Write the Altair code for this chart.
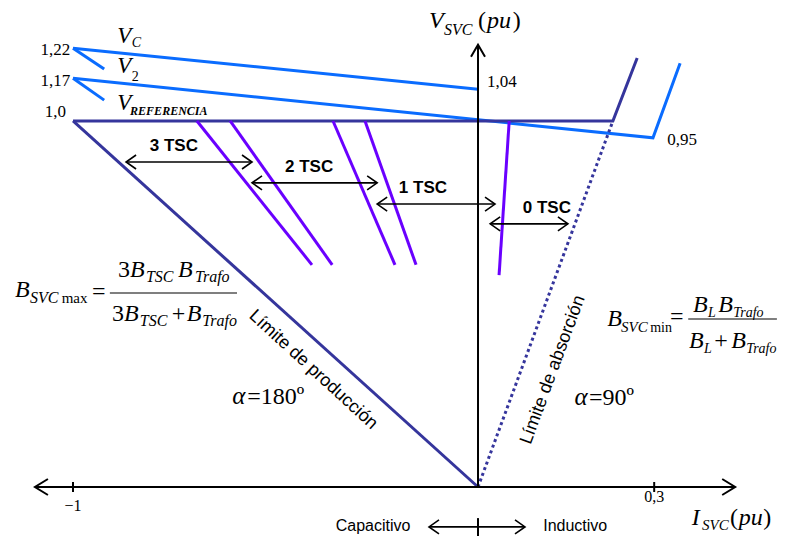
import altair as alt
import pandas as pd

# ---------------- schematic data (I_SVC, V_SVC in pu, as sketched) ----------------
VC_I = [-1.0, 0.0];             VC_V = [1.199, 1.087]
VC_MARK_I = [-1.0, -0.923];     VC_MARK_V = [1.199, 1.142]
V2_I = [-1.0, 0.432, 0.499];    V2_V = [1.117, 0.954, 1.158]
V2_MARK_I = [-1.0, -0.923];     V2_MARK_V = [1.117, 1.057]
VREF_I = [-1.0, 0.333, 0.393];  VREF_V = [1.0, 1.0, 1.172]
PROD_I = [-1.0, 0.0];           PROD_V = [1.0, 0.0]
ABS_I = [0.0, 0.333];           ABS_V = [0.0, 1.0]
TSC_TOP_I = [-0.694, -0.612, -0.358, -0.279, 0.077]
TSC_BOT_I = [-0.410, -0.360, -0.205, -0.153, 0.052]
TSC_BOT_V = [0.607, 0.607, 0.607, 0.607, 0.579]

AXIS_I = [-1.094, 0.635]
AXIS_V_TOP = 1.208
TICK_I = [-1.0, 0.435]
TICK_LABELS = ["\u22121", "0,3"]
TICK_LABEL_V = [-0.066, -0.041]

ARROW_V = [0.888, 0.831, 0.773, 0.719]
ARROW_I0 = [-0.869, -0.558, -0.249, 0.030]
ARROW_I1 = [-0.558, -0.249, 0.042, 0.222]
TSC_LABELS = ["3 TSC", "2 TSC", "1 TSC", "0 TSC"]
TSC_LABEL_I = [-0.751, -0.417, -0.136, 0.170]
TSC_LABEL_V = [0.918, 0.861, 0.803, 0.749]

SIDE_LABELS = ["Capacitivo", "Inductivo"]
SIDE_I = [-0.259, 0.240]
SIDE_V = -0.107
SIDE_ARROW_I = [-0.121, 0.116]

VLEVEL_LABELS = ["1,22", "1,17", "1,0"]
VLEVEL_I = [-1.007, -1.007, -1.017]
VLEVEL_V = [1.180, 1.096, 1.011]
VPOINT_LABELS = ["1,04", "0,95"]
VPOINT_I = [0.022, 0.467]
VPOINT_V = [1.093, 0.934]

# formula bars
FRAC_MAX_I = [-0.909, -0.595]; FRAC_MAX_V = 0.530
FRAC_MIN_I = [0.519, 0.738];   FRAC_MIN_V = 0.459

SERIF = "Liberation Serif"
SANS = "Liberation Sans"
BLUE = "#0a6cff"
NAVY = "#35359c"
PURPLE = "#6a00ff"

PX_X, PX_Y = 405.0, 366.0
X = alt.X("I:Q", scale=alt.Scale(domain=[-1.1605, 0.7407], nice=False, zero=False), axis=None)
Y = alt.Y("V:Q", scale=alt.Scale(domain=[-0.1339, 1.3087], nice=False, zero=False), axis=None)


def paths_df(paths):
    rows = []
    for i, (xs, ys) in enumerate(paths):
        for k, (x, y) in enumerate(zip(xs, ys)):
            rows.append({"id": i, "k": k, "I": x, "V": y})
    return pd.DataFrame(rows)


def line_layer(paths, color, width, **kw):
    return alt.Chart(paths_df(paths)).mark_line(
        color=color, strokeWidth=width, strokeJoin="miter", **kw
    ).encode(x=X, y=Y, detail="id:N", order="k:Q")


def head(x, y, dx, dy, L=11.0, W=7.0):
    px_, py_ = -dy, dx
    return ([x + (-L * dx + W * px_) / PX_X, x, x + (-L * dx - W * px_) / PX_X],
            [y + (-L * dy + W * py_) / PX_Y, y, y + (-L * dy - W * py_) / PX_Y])


def double_arrow(i0, i1, v, L=10.0, W=7.0):
    return [([i0, i1], [v, v]), head(i0, v, -1, 0, L, W), head(i1, v, 1, 0, L, W)]


def texts(labels, xs, ys, **style):
    if not isinstance(ys, list):
        ys = [ys] * len(labels)
    df = pd.DataFrame({"t": labels, "I": xs, "V": ys})
    base = dict(font=SERIF, fontSize=16, align="left", baseline="alphabetic", color="black")
    base.update(style)
    return alt.Chart(df).mark_text(**base).encode(x=X, y=Y, text="t:N")


# ---------------- black strokes ----------------
axes = [
    (AXIS_I, [0.0, 0.0]),
    ([0.0, 0.0], [0.0, AXIS_V_TOP]),
    head(AXIS_I[0], 0.0, -1, 0, 13, 8),
    head(AXIS_I[1], 0.0, 1, 0, 13, 8),
    head(0.0, AXIS_V_TOP, 0, 1, 12, 7),
]
for t in TICK_I:
    axes.append(([t, t], [-5 / PX_Y, 5 / PX_Y]))
axes.append(([0.0, 0.0], [-0.085, -0.1339]))

arrows = []
for i0, i1, v in zip(ARROW_I0, ARROW_I1, ARROW_V):
    arrows += double_arrow(i0, i1, v)
arrows += double_arrow(SIDE_ARROW_I[0], SIDE_ARROW_I[1], SIDE_V - 0.002)

bars = [(FRAC_MAX_I, [FRAC_MAX_V] * 2), (FRAC_MIN_I, [FRAC_MIN_V] * 2)]

layers = [
    line_layer([(VC_I, VC_V), (VC_MARK_I, VC_MARK_V), (V2_I, V2_V), (V2_MARK_I, V2_MARK_V)], BLUE, 3),
    line_layer([(VREF_I, VREF_V), (PROD_I, PROD_V)], NAVY, 3),
    line_layer([(ABS_I, ABS_V)], NAVY, 3, strokeDash=[3, 3]),
    line_layer([([a, b], [1.0, c]) for a, b, c in zip(TSC_TOP_I, TSC_BOT_I, TSC_BOT_V)], PURPLE, 3),
    line_layer(axes, "black", 2),
    line_layer(arrows, "black", 1.6),
    line_layer(bars, "black", 1.2),
]

# ---------------- texts ----------------
layers += [
    texts(VLEVEL_LABELS, VLEVEL_I, VLEVEL_V, align="right", fontSize=17),
    texts(VPOINT_LABELS, VPOINT_I, VPOINT_V, fontSize=17),
    texts(TICK_LABELS, TICK_I, TICK_LABEL_V, align="center", fontSize=16),
    # curve names
    texts(["V", "V", "V"], [-0.891] * 3, [1.213, 1.131, 1.030], fontStyle="italic", fontSize=23),
    texts(["C"], [-0.855], [1.202], fontStyle="italic", fontSize=14),
    texts(["2"], [-0.855], [1.109], fontSize=14),
    texts(["REFERENCIA"], [-0.859], [1.016], fontStyle="italic", fontWeight="bold", fontSize=12),
    # axis titles
    texts(["V", "I", "pu", "pu"], [-0.121, 0.528, 0.022, 0.644], [1.254, -0.104, 1.254, -0.104],
          fontStyle="italic", fontSize=24),
    texts(["SVC"], [-0.084], [1.235], fontStyle="italic", fontSize=16),
    texts(["SVC"], [0.553], [-0.117], fontStyle="italic", fontSize=15),
    texts(["(", ")", "(", ")"], [0.0, 0.086, 0.622, 0.704], [1.254, 1.254, -0.104, -0.104], fontSize=24),
    # TSC and side labels
    texts(TSC_LABELS, TSC_LABEL_I, TSC_LABEL_V, font=SANS, fontWeight="bold", fontSize=17, align="center"),
    texts(SIDE_LABELS, SIDE_I, SIDE_V, font=SANS, fontSize=16, align="center", baseline="middle"),
    texts(["L\u00edmite de producci\u00f3n"], [-0.407], [0.320], font=SANS, fontSize=18,
          align="center", baseline="middle", angle=42.5),
    texts(["L\u00edmite de absorci\u00f3n"], [0.185], [0.320], font=SANS, fontSize=18,
          align="center", baseline="middle", angle=290.3),
    # alpha annotations
    texts(["\u03b1", "\u03b1"], [-0.607, 0.238], [0.227, 0.224], fontStyle="italic", fontSize=25),
    texts(["=180\u00ba", "=90\u00ba"], [-0.570, 0.274], [0.227, 0.224], fontSize=24),
    # formula B_SVCmax (main B's) + numerator / denominator
    texts(["B", "B", "B", "B", "B", "B"],
          [-1.143, -0.859, -0.741, -0.874, -0.719, 0.319],
          [0.519, 0.574, 0.574, 0.454, 0.454, 0.440], fontStyle="italic", fontSize=24),
    texts(["SVC", "TSC", "Trafo", "TSC", "Trafo"],
          [-1.106, -0.820, -0.699, -0.835, -0.681],
          [0.503, 0.560, 0.560, 0.440, 0.440], fontStyle="italic", fontSize=16),
    texts(["max"], [-1.028], [0.503], fontSize=15),
    texts(["=", "3", "3", "+", "=", "+"],
          [-0.953, -0.889, -0.904, -0.756, 0.474, 0.583],
          [0.514, 0.574, 0.454, 0.454, 0.445, 0.380], fontSize=24),
    # formula B_SVCmin
    texts(["SVC"], [0.353], [0.423], fontStyle="italic", fontSize=15),
    texts(["min"], [0.425], [0.423], fontSize=14),
    texts(["B", "B", "B", "B"], [0.531, 0.593, 0.521, 0.625], [0.478, 0.478, 0.380, 0.380],
          fontStyle="italic", fontSize=24),
    texts(["L", "Trafo", "L", "Trafo"], [0.568, 0.630, 0.558, 0.662], [0.464, 0.464, 0.366, 0.366],
          fontStyle="italic", fontSize=14),
]

chart = alt.layer(*layers).properties(
    width=770, height=528, padding=0, autosize="none", background="white"
).configure_view(stroke=None)

chart.save("out.html", embed_options={"renderer": "svg", "actions": False})
